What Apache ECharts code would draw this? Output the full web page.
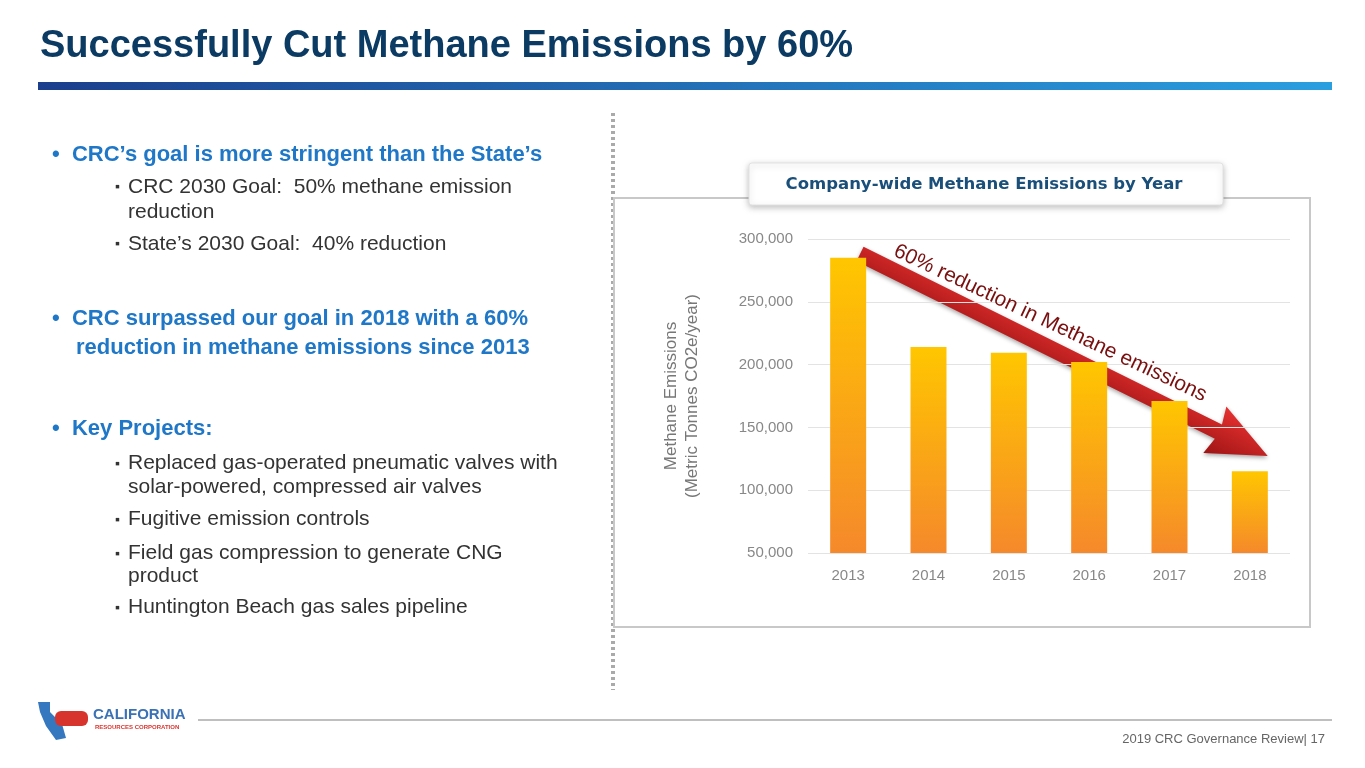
<!DOCTYPE html>
<html>
<head>
<meta charset="utf-8">
<script src="https://cdn.jsdelivr.net/npm/echarts@6/dist/echarts.min.js"></script>
<style>html,body{margin:0;padding:0;background:#fff}#main{width:1365px;height:768px}</style>
</head>
<body>
<div id="main"></div>
<script>
var years = ['2013', '2014', '2015', '2016', '2017', '2018'];
var emissions = [285000, 214000, 209500, 202000, 171000, 115000];
var yTicks = { min: 50000, max: 300000, interval: 50000 };

var chart = echarts.init(document.getElementById('main'));
var F = 'Liberation Sans, Arial, sans-serif';

function txt(x, y, s, style) {
    return { type: 'text', left: x, top: y, z: 10, style: Object.assign({ text: s, font: '21px ' + F, fill: '#333' }, style || {}) };
}
var H = 'bold 22px ' + F;
var SQ = '14px ' + F;

var graphics = [
    // title
    txt(40, 28, 'Successfully Cut Methane Emissions by 60%', { font: 'bold 38px ' + F, fill: '#0b3a63' }),
    { type: 'rect', shape: { x: 38, y: 82, width: 1294, height: 8 },
      style: { fill: new echarts.graphic.LinearGradient(0, 0, 1, 0, [{ offset: 0, color: '#1b3f8c' }, { offset: 1, color: '#2a9fe0' }]) } },
    // separator
    { type: 'line', shape: { x1: 613, y1: 113, x2: 613, y2: 690 }, style: { stroke: '#aaa', lineWidth: 4, lineDash: [3, 3] } },
    // bullets
    txt(52, 144, '•  CRC’s goal is more stringent than the State’s', { font: H, fill: '#1f77c8' }),
    txt(115, 180, '▪', { font: SQ }),
    txt(128, 177, 'CRC 2030 Goal:  50% methane emission', {}),
    txt(128, 202, 'reduction', {}),
    txt(115, 237, '▪', { font: SQ }),
    txt(128, 234, 'State’s 2030 Goal:  40% reduction', {}),
    txt(52, 308, '•  CRC surpassed our goal in 2018 with a 60%', { font: H, fill: '#1f77c8' }),
    txt(76, 337, 'reduction in methane emissions since 2013', { font: H, fill: '#1f77c8' }),
    txt(52, 418, '•  Key Projects:', { font: H, fill: '#1f77c8' }),
    txt(115, 457, '▪', { font: SQ }),
    txt(128, 453, 'Replaced gas-operated pneumatic valves with', {}),
    txt(128, 477, 'solar-powered, compressed air valves', {}),
    txt(115, 513, '▪', { font: SQ }),
    txt(128, 509, 'Fugitive emission controls', {}),
    txt(115, 547, '▪', { font: SQ }),
    txt(128, 543, 'Field gas compression to generate CNG', {}),
    txt(128, 566, 'product', {}),
    txt(115, 601, '▪', { font: SQ }),
    txt(128, 597, 'Huntington Beach gas sales pipeline', {}),
    // chart frame
    { type: 'rect', z: 0, shape: { x: 614, y: 198, width: 696, height: 429 }, style: { fill: '#fff', stroke: '#c8c8c8', lineWidth: 2 } },
    { type: 'rect', z: 1, shape: { x: 749, y: 163, width: 474, height: 42, r: 3 },
      style: { fill: '#fff', stroke: '#e2e2e2', lineWidth: 1, shadowBlur: 6, shadowColor: 'rgba(0,0,0,0.25)', shadowOffsetY: 2 } },
    { type: 'text', z: 2, x: 984, y: 185, style: { text: 'Company-wide Methane Emissions by Year', font: 'bold 16.5px DejaVu Sans, sans-serif', fill: '#1a4f7a', align: 'center', verticalAlign: 'middle' } },
    // arrow
    { type: 'group', x: 860, y: 254, rotation: -0.46, z: 20, children: [
        { type: 'polygon', shape: { points: [[0, -8], [400, -8], [396, -26], [455, 0], [396, 26], [400, 8], [0, 8]] },
          style: { fill: new echarts.graphic.LinearGradient(0, 0, 0, 1, [{ offset: 0, color: '#e63030' }, { offset: 1, color: '#9e1414' }]), shadowBlur: 4, shadowColor: 'rgba(0,0,0,0.35)', shadowOffsetY: 2 } }
    ] },
    { type: 'text', z: 21, x: 895, y: 250, rotation: -0.44,
      style: { text: '60% reduction in Methane emissions', font: '21px ' + F, fill: '#7a0f0f', verticalAlign: 'middle' } },
    // footer
    { type: 'line', shape: { x1: 198, y1: 720, x2: 1332, y2: 720 }, style: { stroke: '#aaa', lineWidth: 1.5 } },
    { type: 'text', x: 1325, y: 739, style: { text: '2019 CRC Governance Review| 17', font: '13px ' + F, fill: '#666', align: 'right', verticalAlign: 'middle' } },
    // logo
    { type: 'polygon', shape: { points: [[38, 702], [50, 702], [50, 712], [62, 724], [66, 738], [56, 740], [46, 726], [40, 712]] }, style: { fill: '#3578c0' } },
    { type: 'rect', shape: { x: 55, y: 711, width: 33, height: 15, r: 6 }, style: { fill: '#d8342e' } },
    txt(93, 707, 'CALIFORNIA', { font: 'bold 15px ' + F, fill: '#3a72b5' }),
    txt(95, 724, 'RESOURCES CORPORATION', { font: 'bold 6px ' + F, fill: '#d8342e' })
];

var option = {
    animation: false,
    grid: { left: 808, right: 75, top: 239, bottom: 215 },
    xAxis: {
        type: 'category', data: years,
        axisLine: { show: false }, axisTick: { show: false },
        axisLabel: { color: '#888', fontSize: 15, fontFamily: F, margin: 15 }
    },
    yAxis: {
        type: 'value', min: yTicks.min, max: yTicks.max, interval: yTicks.interval,
        name: 'Methane Emissions\n(Metric Tonnes CO2e/year)',
        nameLocation: 'middle', nameGap: 105,
        nameTextStyle: { color: '#777', fontSize: 17, fontFamily: F, lineHeight: 21 },
        axisLabel: { color: '#888', fontSize: 15, fontFamily: F, margin: 15,
            formatter: function (v) { return v.toLocaleString('en-US'); } },
        splitLine: { lineStyle: { color: '#e3e3e3' } }
    },
    series: [{
        type: 'bar', data: emissions, barWidth: 36, z: 5,
        itemStyle: { color: new echarts.graphic.LinearGradient(0, 0, 0, 1, [
            { offset: 0, color: '#ffc600' }, { offset: 1, color: '#f5892b' }]) }
    }],
    graphic: graphics
};
chart.setOption(option);
</script>
</body>
</html>
